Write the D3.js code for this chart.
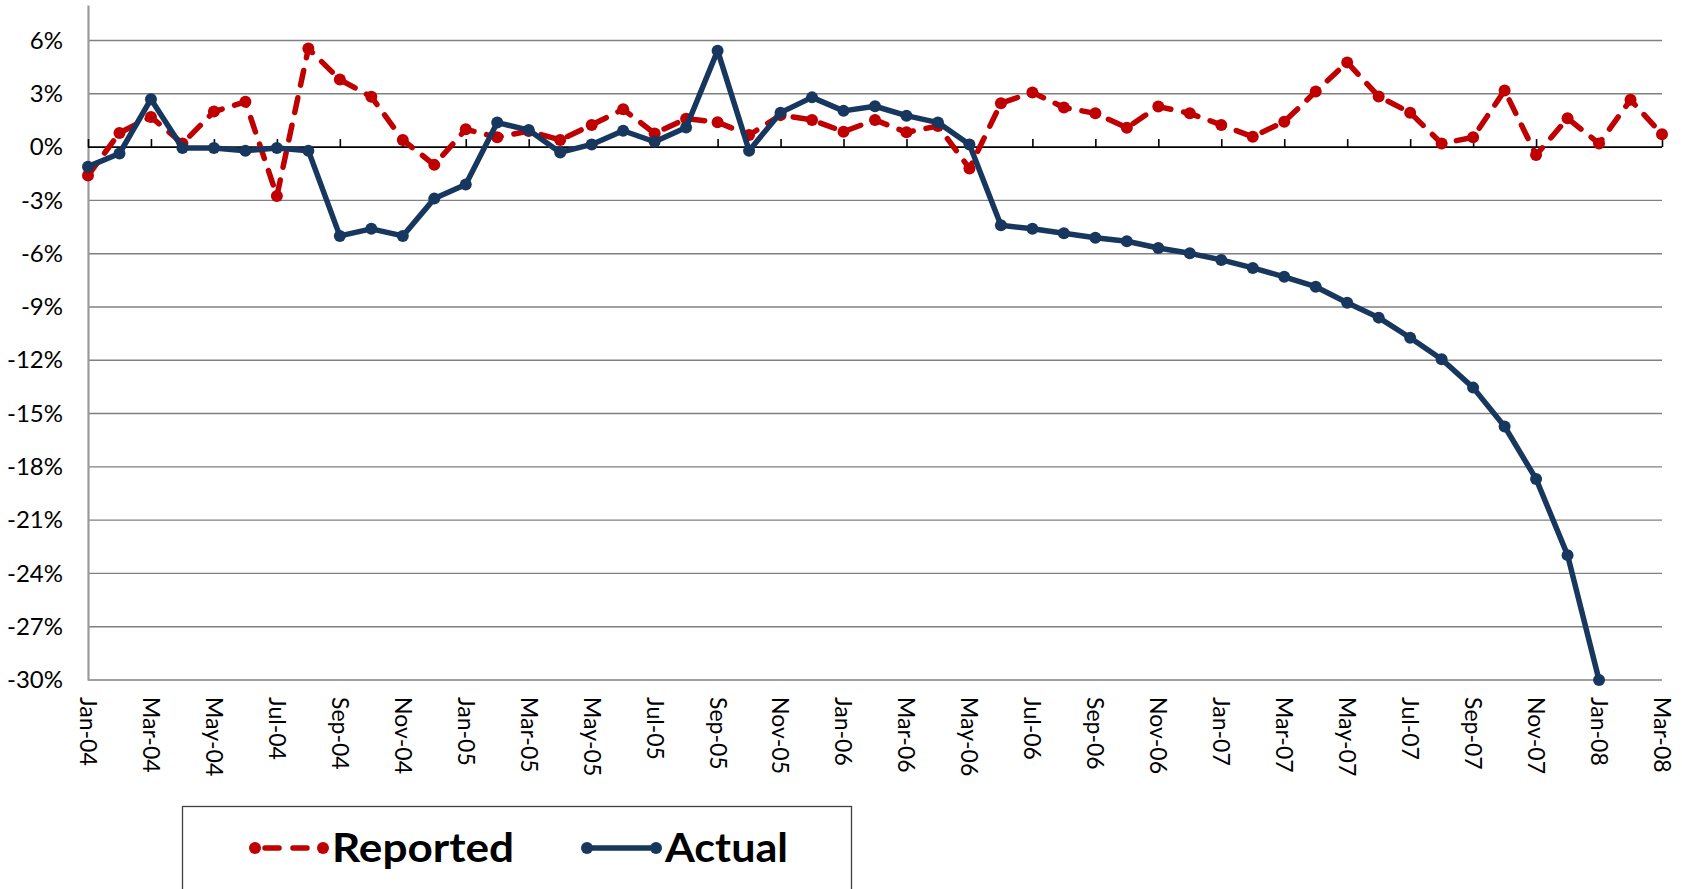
<!DOCTYPE html>
<html>
<head>
<meta charset="utf-8">
<script src="https://cdn.jsdelivr.net/npm/d3@7"></script>
<style>
  body { margin: 0; background: #fff; }
  svg { display: block; }
</style>
</head>
<body>
<div id="chart"></div>
<script>
// monthly categories, Jan-04 .. Mar-08
const months = [
  "Jan-04","Feb-04","Mar-04","Apr-04","May-04","Jun-04","Jul-04","Aug-04","Sep-04","Oct-04","Nov-04","Dec-04",
  "Jan-05","Feb-05","Mar-05","Apr-05","May-05","Jun-05","Jul-05","Aug-05","Sep-05","Oct-05","Nov-05","Dec-05",
  "Jan-06","Feb-06","Mar-06","Apr-06","May-06","Jun-06","Jul-06","Aug-06","Sep-06","Oct-06","Nov-06","Dec-06",
  "Jan-07","Feb-07","Mar-07","Apr-07","May-07","Jun-07","Jul-07","Aug-07","Sep-07","Oct-07","Nov-07","Dec-07",
  "Jan-08","Feb-08","Mar-08"
];

// % change
const reported = [
  -1.6, 0.8, 1.7, 0.2, 2.0, 2.55, -2.75, 5.55, 3.8, 2.83, 0.4, -1.0,
  1.0, 0.55, 0.9, 0.4, 1.25, 2.13, 0.77, 1.6, 1.4, 0.68, 1.8, 1.53,
  0.87, 1.53, 0.83, 1.19, -1.2, 2.47, 3.08, 2.23, 1.9, 1.09, 2.28, 1.9,
  1.25, 0.58, 1.43, 3.13, 4.77, 2.85, 1.94, 0.2, 0.55, 3.19, -0.45, 1.62,
  0.2, 2.66, 0.72
];

const actual = [
  -1.1, -0.36, 2.7, -0.05, -0.05, -0.2, -0.05, -0.2, -5.0, -4.6, -5.0, -2.9,
  -2.1, 1.38, 0.96, -0.3, 0.15, 0.92, 0.3, 1.1, 5.43, -0.2, 1.94, 2.8,
  2.04, 2.3, 1.77, 1.38, 0.15, -4.4, -4.6, -4.85, -5.1, -5.3, -5.68, -5.98,
  -6.35, -6.8, -7.3, -7.86, -8.76, -9.6, -10.73, -11.94, -13.54, -15.73, -18.68, -22.97,
  -30
];

const yTicks = [6, 3, 0, -3, -6, -9, -12, -15, -18, -21, -24, -27, -30];
const xTickLabels = months.filter((m, i) => i % 2 === 0);

const width = 1682;
const height = 889;
const font = "Lato, 'Open Sans', sans-serif";

const svg = d3.select("#chart")
  .append("svg")
  .attr("width", width)
  .attr("height", height);

const x = d3.scalePoint()
  .domain(months)
  .range([88, 1662]);

const y = d3.scaleLinear()
  .domain([-30, 8])
  .range([680, 5]);

// ----------------------------
// GRIDLINES
// ----------------------------
svg.append("g")
  .selectAll("line")
  .data(yTicks.filter(t => t !== 0))
  .join("line")
  .attr("x1", x.range()[0])
  .attr("x2", x.range()[1])
  .attr("y1", d => y(d))
  .attr("y2", d => y(d))
  .attr("stroke", "#808080")
  .attr("stroke-width", 1.4);

// ----------------------------
// Y-AXIS
// ----------------------------
const yAxis = svg.append("g")
  .attr("transform", `translate(${x.range()[0]},0)`)
  .call(d3.axisLeft(y).tickValues(yTicks).tickSize(0).tickPadding(25)
    .tickFormat(d => d + "%"));

yAxis.select(".domain").attr("stroke", "#9a9a9a").attr("stroke-width", 2.2);
yAxis.selectAll("text")
  .attr("font-family", font)
  .attr("font-size", "24px")
  .attr("fill", "#000");

// ----------------------------
// X-AXIS (at 0%)
// ----------------------------
const xAxis = svg.append("g")
  .attr("transform", `translate(0,${y(0)})`)
  .call(d3.axisTop(x).tickValues(xTickLabels).tickSize(8).tickFormat(""));

xAxis.select(".domain").attr("stroke", "#000").attr("stroke-width", 1.6)
  .attr("d", `M${x.range()[0]},0H${x.range()[1]}`);
xAxis.selectAll(".tick line").attr("stroke", "#000").attr("stroke-width", 1.6);

svg.append("g")
  .selectAll("text")
  .data(xTickLabels)
  .join("text")
  .attr("transform", d => `translate(${x(d)},697) rotate(90)`)
  .attr("dy", "0.35em")
  .attr("font-family", font)
  .attr("font-size", "23px")
  .attr("fill", "#000")
  .text(d => d);

// ----------------------------
// SERIES
// ----------------------------
const series = [
  { name: "Reported", values: reported, color: "#C00000", dash: "15,13" },
  { name: "Actual", values: actual, color: "#17375E", dash: null }
];

const line = d3.line()
  .x((d, i) => x(months[i]))
  .y(d => y(d));

series.forEach(s => {
  const g = svg.append("g");
  g.append("path")
    .attr("d", line(s.values))
    .attr("fill", "none")
    .attr("stroke", s.color)
    .attr("stroke-width", 5.5)
    .attr("stroke-linejoin", "round")
    .attr("stroke-linecap", "round")
    .attr("stroke-dasharray", s.dash);
  g.selectAll("circle")
    .data(s.values)
    .join("circle")
    .attr("cx", (d, i) => x(months[i]))
    .attr("cy", d => y(d))
    .attr("r", 6)
    .attr("fill", s.color);
});

// ----------------------------
// LEGEND
// ----------------------------
const legend = svg.append("g");

legend.append("rect")
  .attr("x", 182.5)
  .attr("y", 806.5)
  .attr("width", 669)
  .attr("height", 120)
  .attr("fill", "#fff")
  .attr("stroke", "#404040")
  .attr("stroke-width", 1.3);

const legendItems = [
  { s: series[0], x1: 255, x2: 323, tx: 332, tw: 182 },
  { s: series[1], x1: 587, x2: 656, tx: 665, tw: 123 }
];

legendItems.forEach(it => {
  legend.append("line")
    .attr("x1", it.x1).attr("x2", it.x2)
    .attr("y1", 848).attr("y2", 848)
    .attr("stroke", it.s.color)
    .attr("stroke-width", 5.5)
    .attr("stroke-linecap", "round")
    .attr("stroke-dasharray", it.s.dash ? "14,14" : null)
    .attr("stroke-dashoffset", it.s.dash ? -10 : null);
  [it.x1, it.x2].forEach(cx => {
    legend.append("circle")
      .attr("cx", cx).attr("cy", 848).attr("r", 6)
      .attr("fill", it.s.color);
  });
  legend.append("text")
    .attr("x", it.tx)
    .attr("y", 862)
    .attr("font-family", font)
    .attr("font-size", "41px")
    .attr("font-weight", "bold")
    .attr("textLength", it.tw)
    .attr("lengthAdjust", "spacingAndGlyphs")
    .attr("fill", "#000")
    .text(it.s.name);
});
</script>
</body>
</html>
